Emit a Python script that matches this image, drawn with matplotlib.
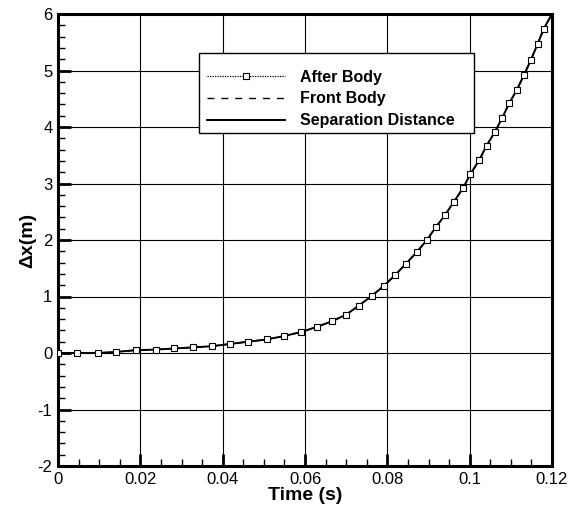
import matplotlib
matplotlib.use("Agg")
import matplotlib.pyplot as plt
from matplotlib.patches import Rectangle
from matplotlib.ticker import MultipleLocator, FormatStrFormatter

plt.rcParams["font.family"] = ["Liberation Sans", "DejaVu Sans"]
plt.rcParams["axes.unicode_minus"] = False

# values (marker positions), last point is the end of the curve
time = [0.0, 0.0047, 0.0096, 0.0142, 0.0189, 0.0237, 0.0282, 0.0328, 0.0373,
        0.0418, 0.0462, 0.0507, 0.0549, 0.0590, 0.0628, 0.0665, 0.0700, 0.0731,
        0.0762, 0.0792, 0.0819, 0.0845, 0.0871, 0.0896, 0.0918, 0.0940, 0.0962,
        0.0984, 0.1002, 0.1023, 0.1041, 0.1061, 0.1079, 0.1096, 0.1114, 0.1132,
        0.1149, 0.1165, 0.1180, 0.1200]
after_body = [0.0, 0.0, 0.0, 0.02, 0.05, 0.06, 0.08, 0.10, 0.12,
              0.16, 0.20, 0.24, 0.30, 0.37, 0.46, 0.56, 0.68, 0.84,
              1.01, 1.19, 1.38, 1.58, 1.78, 2.00, 2.23, 2.44, 2.68,
              2.92, 3.17, 3.41, 3.67, 3.91, 4.16, 4.42, 4.65, 4.92,
              5.19, 5.47, 5.74, 6.00]
front_body = list(after_body)
separation = list(after_body)

x_ticks = [0, 0.02, 0.04, 0.06, 0.08, 0.1, 0.12]
y_ticks = [-2, -1, 0, 1, 2, 3, 4, 5, 6]

fig = plt.figure(figsize=(5.69, 5.08), dpi=100)
ax = fig.add_axes([58 / 569, 1 - 466 / 508, 494 / 569, 452 / 508])

ax.plot(time, after_body, color="black", linestyle=(0, (1, 1)), linewidth=0.9,
        marker="s", markersize=4, markerfacecolor="white", markeredgecolor="black",
        markeredgewidth=0.8, markevery=slice(0, -1), label="After Body", zorder=4)
ax.plot(time, front_body, color="black", linestyle=(0, (5, 5)), linewidth=1.0,
        label="Front Body", zorder=3)
ax.plot(time, separation, color="black", linestyle="-", linewidth=1.4,
        label="Separation Distance", zorder=3)

ax.set_xlim(0, 0.12)
ax.set_ylim(-2, 6)
ax.set_xticks(x_ticks)
ax.set_yticks(y_ticks)
ax.xaxis.set_major_formatter(FormatStrFormatter("%g"))
ax.yaxis.set_major_formatter(FormatStrFormatter("%g"))
ax.xaxis.set_minor_locator(MultipleLocator(0.005))
ax.yaxis.set_minor_locator(MultipleLocator(0.2))
ax.tick_params(which="major", direction="in", length=9, width=2, labelsize=12, pad=4)
ax.tick_params(which="minor", direction="in", length=5, width=1)
ax.tick_params(top=False, right=False)

ax.grid(True, which="major", color="black", linewidth=0.8)
ax.set_axisbelow(True)
for sp in ax.spines.values():
    sp.set_linewidth(2.2)

ax.set_xlabel("Time (s)", fontsize=14, fontweight="bold")
ax.set_ylabel("\u0394x(m)", fontsize=14, fontweight="bold")
ax.xaxis.set_label_coords(0.5, -0.046)
ax.yaxis.set_label_coords(-0.045, 0.5)

# legend box drawn separately, entries placed inside it
box = Rectangle((0.285, 0.737), 0.557, 0.177, transform=ax.transAxes,
                facecolor="white", edgecolor="black", linewidth=1.0, zorder=5)
ax.add_patch(box)
leg = ax.legend(loc="center left", bbox_to_anchor=(0.302, 0.812), frameon=False,
                borderpad=0, borderaxespad=0, numpoints=1,
                handlelength=4.9, handletextpad=0.9, labelspacing=0.42,
                prop={"weight": "bold", "size": 11.5})
leg.set_zorder(6)

fig.savefig("out.png", dpi=100)
